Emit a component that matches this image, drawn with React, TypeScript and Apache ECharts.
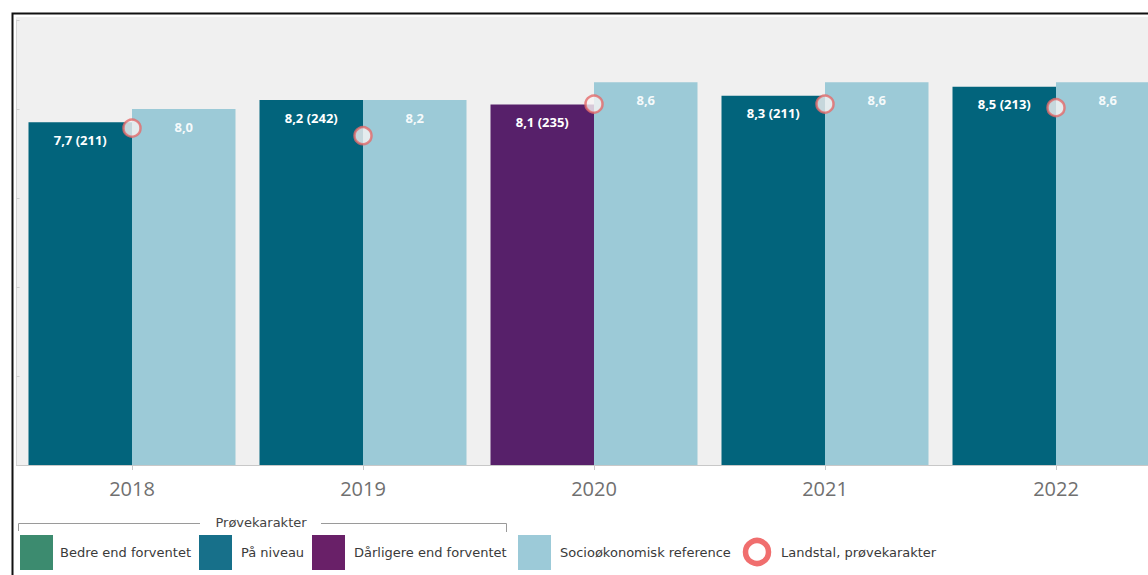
import React, { useEffect, useRef } from "react";
import * as echarts from "echarts";

const years = ["2018", "2019", "2020", "2021", "2022"];
const skoleKarakter = [7.7, 8.2, 8.1, 8.3, 8.5];
const elevAntal = [211, 242, 235, 211, 213];
const niveauStatus = ["niveau", "niveau", "under", "niveau", "niveau"];
const socioReference = [8.0, 8.2, 8.6, 8.6, 8.6];
const landstal = [7.57, 7.4, 8.11, 8.11, 8.03];

const legendItems = [
  { name: "Bedre end forventet", color: "#3c8b6f" },
  { name: "På niveau", color: "#17708a" },
  { name: "Dårligere end forventet", color: "#692068" },
  { name: "Socioøkonomisk reference", color: "#9ccad8" },
];
const landstalLabel = "Landstal, prøvekarakter";
const groupTitle = "Prøvekarakter";

const COLORS = {
  over: "#2f7f63",
  niveau: "#02647c",
  under: "#57206a",
  socio: "#9ccad7",
};

const fmt = (v: number) => v.toFixed(1).replace(".", ",");

export default function App() {
  const ref = useRef<HTMLDivElement>(null);
  useEffect(() => {
    if (!ref.current) return;
    const chart = echarts.init(ref.current, null, { renderer: "svg" });

    const legendX = [20, 199, 312, 518];
    const legendTextX = [60, 241, 354, 560];
    const legendGraphics: any[] = [];
    legendItems.forEach((it, i) => {
      legendGraphics.push({
        type: "rect",
        shape: { x: legendX[i], y: 535, width: 33, height: 35 },
        style: { fill: it.color },
      });
      legendGraphics.push({
        type: "text",
        x: legendTextX[i],
        y: 552,
        style: {
          text: it.name,
          fill: "#3a3a3a",
          font: "13px 'DejaVu Sans'",
          textVerticalAlign: "middle",
        },
      });
    });

    const option: any = {
      animation: false,
      textStyle: { fontFamily: "Open Sans" },
      grid: { left: 16.5, right: 0.5, top: 20, bottom: 110, containLabel: false },
      xAxis: {
        type: "category",
        data: years,
        axisLine: { show: true, lineStyle: { color: "#c8c8c8", width: 1 } },
        axisTick: {
          show: true,
          alignWithLabel: true,
          length: 5,
          lineStyle: { color: "#c8c8c8" },
        },
        axisLabel: {
          color: "#707070",
          fontSize: 20,
          fontFamily: "Open Sans",
          margin: 13,
        },
      },
      yAxis: {
        type: "value",
        min: 0,
        max: 10,
        interval: 2,
        axisLine: { show: true, lineStyle: { color: "#d5d5d5" } },
        axisTick: { show: true, inside: true, length: 3, lineStyle: { color: "#cfcfcf" } },
        axisLabel: { show: false },
        splitLine: { show: false },
      },
      series: [
        {
          name: "Prøvekarakter",
          type: "bar",
          barGap: "0%",
          barCategoryGap: "10.39%",
          data: skoleKarakter.map((v, i) => ({
            value: v,
            itemStyle: { color: (COLORS as any)[niveauStatus[i]] },
          })),
          label: {
            show: true,
            position: "insideTop",
            distance: 11,
            color: "#ffffff",
            fontSize: 13,
            fontWeight: "bold",
            fontFamily: "Open Sans",
            formatter: (p: any) => `${fmt(p.value)} (${elevAntal[p.dataIndex]})`,
          },
        },
        {
          name: "Socioøkonomisk reference",
          type: "bar",
          barGap: "0%",
          barCategoryGap: "10.39%",
          data: socioReference,
          itemStyle: { color: COLORS.socio },
          label: {
            show: true,
            position: "insideTop",
            distance: 11,
            color: "rgba(255,255,255,0.92)",
            fontSize: 13,
            fontWeight: "bold",
            fontFamily: "Open Sans",
            formatter: (p: any) => fmt(p.value),
          },
        },
        {
          name: landstalLabel,
          type: "scatter",
          data: landstal,
          symbol: "circle",
          symbolSize: 17,
          z: 5,
          itemStyle: { color: "#f7f4f4", borderColor: "#e46a6a", borderWidth: 2.5 },
        },
      ],
      graphic: [
        {
          type: "rect",
          z: -10,
          shape: { x: 16, y: 17, width: 1160, height: 448 },
          style: { fill: "#f0f0f0" },
          silent: true,
        },
        {
          type: "polyline",
          z: 10,
          shape: { points: [[12.5, 580], [12.5, 13.5], [1175, 13.5]] },
          style: { stroke: "#111111", lineWidth: 2, fill: null },
        },
        {
          type: "polyline",
          shape: { points: [[18.5, 531], [18.5, 523.5], [200, 523.5]] },
          style: { stroke: "#9a9a9a", lineWidth: 1, fill: null },
        },
        {
          type: "polyline",
          shape: { points: [[321, 523.5], [506.5, 523.5], [506.5, 532]] },
          style: { stroke: "#9a9a9a", lineWidth: 1, fill: null },
        },
        {
          type: "text",
          x: 261,
          y: 522,
          style: {
            text: groupTitle,
            fill: "#444444",
            font: "13px 'DejaVu Sans'",
            textAlign: "center",
            textVerticalAlign: "middle",
          },
        },
        ...legendGraphics,
        {
          type: "circle",
          shape: { cx: 757, cy: 552, r: 11.5 },
          style: { fill: "#ffffff", stroke: "#f06e6e", lineWidth: 5.5 },
        },
        {
          type: "text",
          x: 781,
          y: 552,
          style: {
            text: landstalLabel,
            fill: "#3a3a3a",
            font: "13px 'DejaVu Sans'",
            textVerticalAlign: "middle",
          },
        },
      ],
    };
    chart.setOption(option);
    return () => chart.dispose();
  }, []);

  return (
    <div
      style={{
        position: "fixed",
        left: 0,
        top: 0,
        width: 1148,
        height: 575,
        overflow: "hidden",
        background: "#ffffff",
      }}
    >
      <div ref={ref} style={{ width: 1172, height: 575 }} />
    </div>
  );
}
